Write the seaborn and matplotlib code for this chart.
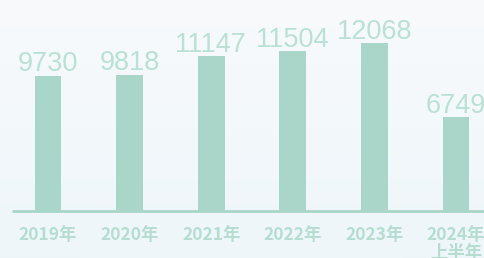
import matplotlib.pyplot as plt
import numpy as np
import pandas as pd
import seaborn as sns

years = ['2019年', '2020年', '2021年', '2022年', '2023年', '2024年\n上半年']
values = [9730, 9818, 11147, 11504, 12068, 6749]

bar_color = '#a9d6c8'
num_color = '#b9e1d4'
tick_color = '#b5ddd0'

sns.set_theme(style='white')
plt.rcParams['font.family'] = ['Noto Sans CJK SC', 'DejaVu Sans']

fig = plt.figure(figsize=(4.84, 2.58), dpi=100)

# soft vertical gradient background
bg = fig.add_axes([0, 0, 1, 1], zorder=0)
grad = np.linspace(0, 1, 256).reshape(-1, 1)
bg.imshow(grad, aspect='auto', cmap=sns.blend_palette(['#f8fafc', '#eef6fa'], as_cmap=True),
          extent=[0, 1, 0, 1])
bg.axis('off')

ax = fig.add_axes([0, 47 / 258, 1, 211 / 258], zorder=1)
ax.patch.set_alpha(0)

df = pd.DataFrame({'year': years, 'value': values})
sns.barplot(data=df, x='year', y='value', color=bar_color, saturation=1, width=0.33,
            linewidth=0, edgecolor='none', ax=ax)

for i, v in enumerate(values):
    ax.text(i, v + 320, str(v), ha='center', va='baseline', fontsize=19.5, color=num_color,
            family=['Liberation Sans', 'DejaVu Sans'])

ax.set_xlim(-0.588, 5.343)
ax.set_ylim(0, 15190)
ax.axhline(0, xmin=(13 / 484), xmax=1, color=bar_color, lw=2, clip_on=False)
ax.set_xlabel('')
ax.set_ylabel('')
ax.set_yticks([])
ax.tick_params(axis='x', length=0, pad=11, labelsize=12.5, labelcolor=tick_color)
for lbl in ax.get_xticklabels():
    lbl.set_fontweight('bold')
    lbl.set_linespacing(1.0)
    lbl.set_verticalalignment('top')
sns.despine(ax=ax, left=True, bottom=True)

fig.savefig('out.png', dpi=100)
